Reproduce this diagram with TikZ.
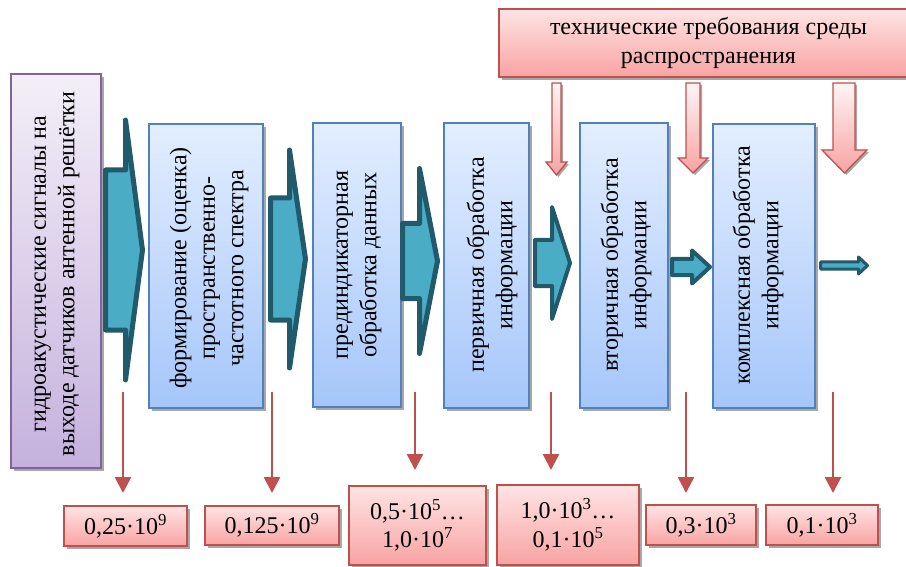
\documentclass[tikz,border=0pt]{standalone}
\usepackage{fontspec}
\setmainfont{Liberation Serif}
\usetikzlibrary{arrows.meta,shadows}
\definecolor{tealfill}{HTML}{4BACC6}
\definecolor{tealdark}{HTML}{215A6B}
\definecolor{redline}{HTML}{C0504D}
\definecolor{pinktop}{HTML}{FFE4E4}
\definecolor{pinkbot}{HTML}{F8A3A3}
\definecolor{bluetop}{HTML}{E3EEFF}
\definecolor{bluebot}{HTML}{A5C6FA}
\definecolor{blueline}{HTML}{4F81BD}
\definecolor{purptop}{HTML}{F3EFF8}
\definecolor{purpbot}{HTML}{C5B1DD}
\definecolor{purpline}{HTML}{8064A2}
\definecolor{shadowgray}{HTML}{A8A8A8}
\tikzset{
  txt/.style={font=\fontsize{24}{28.5}\selectfont, align=center, inner sep=0pt},
  boxbase/.style={rectangle, inner sep=0pt, outer sep=0pt, line width=1.3pt,
    drop shadow={shadow xshift=3pt, shadow yshift=-3pt, fill=shadowgray, opacity=1}},
  bluebox/.style={boxbase, draw=blueline, top color=bluetop, bottom color=bluebot},
  purplebox/.style={boxbase, draw=purpline, top color=purptop, bottom color=purpbot},
  pinkbox/.style={boxbase, draw=redline, top color=pinktop, bottom color=pinkbot, txt},
  tealarr/.style={draw=tealdark, fill=tealfill, line join=round},
  pinkarr/.style={draw=redline, line width=1.3pt, top color=pinktop!40!white, bottom color=pinkbot,
    preaction={fill=shadowgray, transform canvas={shift={(2pt,-2pt)}}}},
  redarr/.style={draw=redline, line width=2.5pt, -{Triangle[width=16pt,length=16pt]}},
}
\newcommand\rectnode[7]{\node[#2, minimum width={(#5-#3)*1pt}, minimum height={(#6-#4)*1pt}] (#1) at ({(#3+#5)/2},{(#4+#6)/2}) {#7};}
% #1 lw, #2 x0, #3 xb, #4 xt, #5 yc, #6 shaft half, #7 head half
\newcommand\tealarrow[7]{%
  \pgfmathsetmacro\ii{#1/2}%
  \draw[tealarr, line width=#1pt]
    ({#2+\ii},{#5-#6+\ii}) -- ({#3+\ii},{#5-#6+\ii}) -- ({#3+\ii},{#5-#7+2*\ii})
    -- ({#4-\ii},#5) -- ({#3+\ii},{#5+#7-2*\ii}) -- ({#3+\ii},{#5+#6-\ii})
    -- ({#2+\ii},{#5+#6-\ii}) -- cycle;}
% #1 shaft left, #2 shaft right, #3 y top, #4 head base y, #5 head left, #6 head right, #7 tip y
\newcommand\pinkarrow[7]{%
  \draw[pinkarr] (#1,#3) -- (#2,#3) -- (#2,#4) -- (#6,#4) -- ({(#5+#6)/2},#7)
    -- (#5,#4) -- (#1,#4) -- cycle;}
\begin{document}
\begin{tikzpicture}[x=1pt,y=-1pt]
\useasboundingbox[fill=white] (0,0) rectangle (906,567);

% main boxes
\rectnode{b1}{purplebox}{11}{74}{101}{468}{}
\rectnode{b2}{bluebox}{149}{124}{263}{408}{}
\rectnode{b3}{bluebox}{313}{123}{401}{407}{}
\rectnode{b4}{bluebox}{444}{123}{529}{408}{}
\rectnode{b5}{bluebox}{580}{123}{668}{408}{}
\rectnode{b6}{bluebox}{713}{124}{815}{408}{}

\node[txt, rotate=90] (t1) at (57,274) {гидроакустические сигналы на\\выходе датчиков антенной решётки};
\node[txt, rotate=90] (t2) at (209,268) {формирование (оценка)\\пространственно-\\частотного спектра};
\node[txt, rotate=90] (t3) at (359,265) {прединдикаторная\\обработка данных};
\node[txt, rotate=90] (t4) at (492,265) {первичная обработка\\информации};
\node[txt, rotate=90] (t5) at (626,265) {вторичная обработка\\информации};
\node[txt, rotate=90] (t6) at (758,265) {комплексная обработка\\информации};

% top requirement box
\rectnode{req}{pinkbox}{499}{9}{918}{77}{технические требования среды\\распространения}

% teal block arrows between stages
\tealarrow{5}{103}{123}{145}{250}{82.5}{135}
\tealarrow{5}{268}{287}{308}{259}{63.5}{114}
\tealarrow{5}{400}{417}{440}{261}{40}{97.5}
\tealarrow{4}{533}{550}{572}{263}{25}{60}
\tealarrow{4}{670}{690}{712}{267}{10}{20.5}
\tealarrow{3}{819}{857}{869}{265.5}{5}{11.5}

% pink requirement arrows
\pinkarrow{552}{561}{83}{162}{546}{567}{175}
\pinkarrow{686}{700}{83}{158}{678}{708}{173}
\pinkarrow{833}{855}{83}{150}{822}{867}{173}

% value boxes
\rectnode{v1}{pinkbox}{64}{506}{187}{546}{0,25·10\textsuperscript{9}}
\rectnode{v2}{pinkbox}{205}{506}{339}{545}{0,125·10\textsuperscript{9}}
\rectnode{v3}{pinkbox}{349}{486}{486}{565}{0,5·10\textsuperscript{5}…\\1,0·10\textsuperscript{7}}
\rectnode{v4}{pinkbox}{497}{485}{639}{565}{1,0·10\textsuperscript{3}…\\0,1·10\textsuperscript{5}}
\rectnode{v5}{pinkbox}{646}{505}{756}{545}{0,3·10\textsuperscript{3}}
\rectnode{v6}{pinkbox}{766}{505}{878}{545}{0,1·10\textsuperscript{3}}

% red data-rate arrows
\coordinate (a1s) at (123,392); \coordinate (a1e) at (123,493);
\coordinate (a2s) at (272,392); \coordinate (a2e) at (272,493);
\coordinate (a3s) at (415,392); \coordinate (a3e) at (415,470);
\coordinate (a4s) at (551,392); \coordinate (a4e) at (551,470);
\coordinate (a5s) at (686,392); \coordinate (a5e) at (686,493);
\coordinate (a6s) at (833,392); \coordinate (a6e) at (833,493);
\foreach \k in {1,...,6} {\draw[redarr] (a\k s) -- (a\k e);}
\end{tikzpicture}
\end{document}
